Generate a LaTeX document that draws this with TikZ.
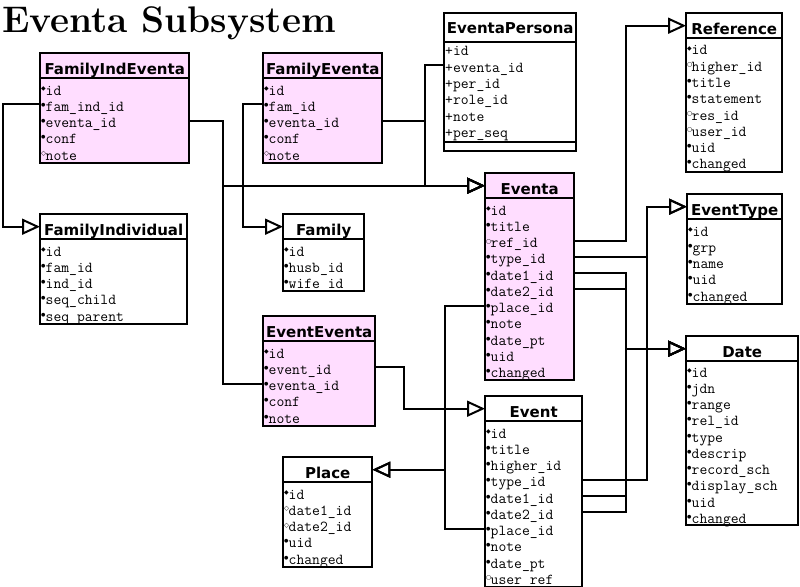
\documentclass[tikz,border=0pt]{standalone}
\usepackage{fontspec}
\usetikzlibrary{arrows.meta}
\newfontfamily\hdrfamily{DejaVu Sans}
\newfontfamily\symfamily{DejaVu Sans}
\definecolor{eventapink}{RGB}{255,221,255}
\newcommand{\mkk}{\makebox[4.5pt][l]{\raisebox{4.5pt}{\symfamily\fontsize{6}{6}\selectfont ◆}}}
\newcommand{\mkr}{\makebox[4.5pt][l]{\raisebox{5pt}{\symfamily\fontsize{5}{5}\selectfont ●}}}
\newcommand{\mko}{\makebox[4.5pt][l]{\raisebox{4.5pt}{\symfamily\bfseries\fontsize{6}{6}\selectfont ○}}}
\newcommand{\mkn}{\makebox[4.5pt][l]{\raisebox{4.5pt}{\symfamily\bfseries\fontsize{6.5}{6.5}\selectfont ◇}}}
\newcommand{\mkp}{+}

\begin{document}
\begin{tikzpicture}[x=1pt, y=-1pt,
  box/.style={draw, line width=2pt},
  hdr/.style={font=\hdrfamily\bfseries\fontsize{15}{16}\selectfont, anchor=north west,
    inner sep=0pt, minimum height=25pt, text height=17pt, text depth=0pt},
  fieldrow/.style={font=\ttfamily\fontsize{15.2}{16}\selectfont, anchor=west,
    inner xsep=1pt, inner ysep=0pt, text height=14pt, text depth=0pt, text width=#1, align=left},
  conn/.style={line width=2pt, -{Triangle[open, length=18pt, width=16pt]}}]
\useasboundingbox (0,0) rectangle (800,586);

%title
\node[anchor=base west, inner sep=0pt, font=\fontsize{37}{40}\selectfont\bfseries] (title) at (2,33) {Eventa Subsystem};

%FamilyIndEventa
\draw[box, fill=eventapink] (40,53) rectangle (189,162.75);
\node[hdr, minimum width=149pt] (fie) at (40,53) {FamilyIndEventa};
\draw[box] (fie.south west) -- (fie.south east);
\foreach \m/\f [count=\i] in {k/id, r/fam\_ind\_id, r/eventa\_id, r/conf, n/note}
  \node[fieldrow=147pt] (fie-\i) at (40,{88+16.25*(\i-1)}) {\csname mk\m\endcsname\f};

%FamilyEventa
\draw[box, fill=eventapink] (263,53) rectangle (382,162.75);
\node[hdr, minimum width=119pt] (fe) at (263,53) {FamilyEventa};
\draw[box] (fe.south west) -- (fe.south east);
\foreach \m/\f [count=\i] in {k/id, r/fam\_id, r/eventa\_id, r/conf, n/note}
  \node[fieldrow=117pt] (fe-\i) at (263,{88+16.25*(\i-1)}) {\csname mk\m\endcsname\f};

%EventaPersona
\draw[box, fill=white] (444,13) rectangle (576,151);
\node[hdr, minimum width=132pt, minimum height=29pt, text height=12pt] (ep) at (444,13) {EventaPersona};
\draw[box] (ep.south west) -- (ep.south east);
\draw[box] (444,142) -- (576,142);
\foreach \m/\f [count=\i] in {p/id, p/eventa\_id, p/per\_id, p/role\_id, p/note, p/per\_seq}
  \node[fieldrow=130pt] (ep-\i) at (444,{49+16.25*(\i-1)}) {\csname mk\m\endcsname\f};

%Reference
\draw[box, fill=white] (686,13) rectangle (782,171.5);
\node[hdr, minimum width=96pt] (ref) at (686,13) {Reference};
\draw[box] (ref.south west) -- (ref.south east);
\foreach \m/\f [count=\i] in {k/id, o/higher\_id, r/title, r/statement, o/res\_id, o/user\_id, r/uid, r/changed}
  \node[fieldrow=94pt] (ref-\i) at (686,{48+16.25*(\i-1)}) {\csname mk\m\endcsname\f};

%Eventa
\draw[box, fill=eventapink] (485,173) rectangle (574,380.25);
\node[hdr, minimum width=89pt] (eventa) at (485,173) {Eventa};
\draw[box] (eventa.south west) -- (eventa.south east);
\foreach \m/\f [count=\i] in {k/id, r/title, o/ref\_id, r/type\_id, r/date1\_id, r/date2\_id, r/place\_id, r/note, r/date\_pt, r/uid, r/changed}
  \node[fieldrow=87pt] (eventa-\i) at (485,{208+16.25*(\i-1)}) {\csname mk\m\endcsname\f};

%EventType
\draw[box, fill=white] (687,194) rectangle (782,303.75);
\node[hdr, minimum width=95pt] (etype) at (687,194) {EventType};
\draw[box] (etype.south west) -- (etype.south east);
\foreach \m/\f [count=\i] in {k/id, r/grp, r/name, r/uid, r/changed}
  \node[fieldrow=93pt] (etype-\i) at (687,{229+16.25*(\i-1)}) {\csname mk\m\endcsname\f};

%Date
\draw[box, fill=white] (686,336) rectangle (798,525);
\node[hdr, minimum width=112pt] (date) at (686,336) {Date};
\draw[box] (date.south west) -- (date.south east);
\foreach \m/\f [count=\i] in {k/id, r/jdn, r/range, r/rel\_id, r/type, r/descrip, r/record\_sch, r/display\_sch, r/uid, r/changed}
  \node[fieldrow=110pt] (date-\i) at (686,{370+16.25*(\i-1)}) {\csname mk\m\endcsname\f};

%FamilyIndividual
\draw[box, fill=white] (40,214) rectangle (187,323.75);
\node[hdr, minimum width=147pt] (fi) at (40,214) {FamilyIndividual};
\draw[box] (fi.south west) -- (fi.south east);
\foreach \m/\f [count=\i] in {k/id, r/fam\_id, r/ind\_id, r/seq\_child, r/seq\_parent}
  \node[fieldrow=145pt] (fi-\i) at (40,{249+16.25*(\i-1)}) {\csname mk\m\endcsname\f};

%Family
\draw[box, fill=white] (283,214) rectangle (364,291.25);
\node[hdr, minimum width=81pt] (fam) at (283,214) {Family};
\draw[box] (fam.south west) -- (fam.south east);
\foreach \m/\f [count=\i] in {k/id, r/husb\_id, r/wife\_id}
  \node[fieldrow=79pt] (fam-\i) at (283,{249+16.25*(\i-1)}) {\csname mk\m\endcsname\f};

%EventEventa
\draw[box, fill=eventapink] (263,316) rectangle (375,425.75);
\node[hdr, minimum width=112pt] (ee) at (263,316) {EventEventa};
\draw[box] (ee.south west) -- (ee.south east);
\foreach \m/\f [count=\i] in {k/id, r/event\_id, r/eventa\_id, r/conf, r/note}
  \node[fieldrow=110pt] (ee-\i) at (263,{351+16.25*(\i-1)}) {\csname mk\m\endcsname\f};

%Event
\draw[box, fill=white] (485,396) rectangle (582,587);
\node[hdr, minimum width=97pt] (event) at (485,396) {Event};
\draw[box] (event.south west) -- (event.south east);
\foreach \m/\f [count=\i] in {k/id, r/title, r/higher\_id, r/type\_id, r/date1\_id, r/date2\_id, r/place\_id, r/note, r/date\_pt, o/user\_ref}
  \node[fieldrow=95pt] (event-\i) at (485,{431+16.25*(\i-1)}) {\csname mk\m\endcsname\f};

%Place
\draw[box, fill=white] (283,457) rectangle (372,566.75);
\node[hdr, minimum width=89pt] (place) at (283,457) {Place};
\draw[box] (place.south west) -- (place.south east);
\foreach \m/\f [count=\i] in {k/id, n/date1\_id, n/date2\_id, r/uid, r/changed}
  \node[fieldrow=87pt] (place-\i) at (283,{492+16.25*(\i-1)}) {\csname mk\m\endcsname\f};

%links
\draw[conn] (fie-2.west) -- ++(-37,0) |- (fi.west);
\draw[conn] (fie-3.east) -- ++(34,0) |- (eventa.west);
\draw[conn] (fe-2.west) -- ++(-20,0) |- (fam.west);
\draw[conn] (fe-3.east) -- ++(43,0) |- (eventa.west);
\draw[conn] (ep-2.west) -- ++(-19,0) |- (eventa.west);
\draw[conn] (ee-3.west) -- ++(-40,0) |- (eventa.west);
\draw[conn] (ee-2.east) -- ++(29,0) |- (event.west);
\draw[conn] (eventa-3.east) -- ++(52,0) |- (ref.west);
\draw[conn] (eventa-4.east) -- ++(73,0) |- (etype.west);
\draw[conn] (eventa-5.east) -- ++(52,0) |- (date.west);
\draw[conn] (eventa-6.east) -- ++(52,0) |- (date.west);
\draw[conn] (eventa-7.west) -- ++(-40,0) |- (place.east);
\draw[conn] (event-4.east) -- ++(65,0) |- (etype.west);
\draw[conn] (event-5.east) -- ++(44,0) |- (date.west);
\draw[conn] (event-6.east) -- ++(44,0) |- (date.west);
\draw[conn] (event-7.west) -- ++(-40,0) |- (place.east);
\end{tikzpicture}
\end{document}
